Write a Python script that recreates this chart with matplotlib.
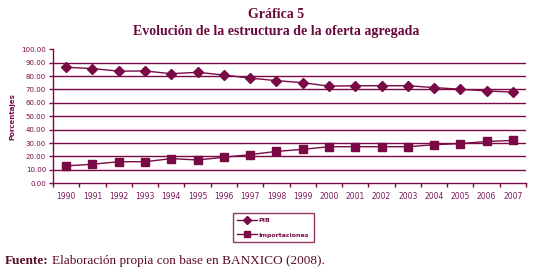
import matplotlib.pyplot as plt
import numpy as np

years = [str(y) for y in range(1990, 2008)]
pib = [86.6, 85.6, 83.7, 83.8, 81.8, 82.8, 80.8, 78.5, 76.6, 75.1, 72.5, 72.8, 72.8, 72.8, 71.4, 70.2, 68.9, 68.0]
importaciones = [13.0, 14.2, 16.1, 16.1, 18.4, 17.4, 19.4, 21.4, 23.8, 25.3, 27.3, 27.3, 27.3, 27.3, 28.8, 29.6, 31.2, 32.0]
yticks = np.arange(0, 101, 10)

maroon = "#7a0a45"
tick_font = ["Liberation Sans Narrow", "DejaVu Sans"]

fig = plt.figure(figsize=(5.52, 2.8), dpi=100)
ax = fig.add_axes([0.096, 0.3454, 0.857, 0.4786])

x = np.arange(len(years))
ax.plot(x, pib, color=maroon, lw=1, marker="D", markersize=5, label="PIB")
ax.plot(x, importaciones, color=maroon, lw=1, marker="s", markersize=5.5, label="Importaciones")

# horizontal grid lines (no line at 100)
for v in yticks[1:-1]:
    ax.axhline(v, color=maroon, lw=1, zorder=0)

ax.set_xlim(-0.5, len(years) - 0.5)
ax.set_ylim(0, 100)
ax.set_yticks(yticks)
ax.set_yticklabels([f"{v:.2f}" for v in yticks], family=tick_font, fontsize=5, color=maroon)
ax.set_xticks(x)
ax.set_xticklabels(years, family=tick_font, fontsize=5.5, color="#7a1a5a")
ax.set_xticks(np.arange(len(years) + 1) - 0.5, minor=True)
ax.tick_params(axis="x", which="major", length=0, pad=6)
ax.tick_params(axis="x", which="minor", length=3, color=maroon, width=1)
ax.tick_params(axis="y", length=3, color=maroon, width=1, pad=2)

for s in ["top", "right"]:
    ax.spines[s].set_visible(False)
for s in ["left", "bottom"]:
    ax.spines[s].set_color(maroon)
    ax.spines[s].set_linewidth(1)

ax.set_ylabel("Porcentajes", family=tick_font, fontsize=5, fontweight="bold", color=maroon, labelpad=4)

leg = ax.legend(loc="upper left", bbox_to_anchor=(233 / 552, 1 - 213 / 280), bbox_transform=fig.transFigure,
                frameon=True, fancybox=False, prop={"family": tick_font, "size": 4.5, "weight": "bold"},
                handlelength=3.2, handletextpad=0.2, labelspacing=1.5, borderpad=0.7, borderaxespad=0,
                markerscale=0.8)
leg.get_frame().set_edgecolor(maroon)
leg.get_frame().set_linewidth(1)
for t in leg.get_texts():
    t.set_color(maroon)

fig.text(0.5, 1 - 14 / 280, "Gráfica 5", ha="center", va="center", family="Liberation Serif",
         fontsize=10, fontweight="bold", color="#6a0a3a")
fig.text(0.5, 1 - 31 / 280, "Evolución de la estructura de la oferta agregada", ha="center", va="center",
         family="Liberation Serif", fontsize=10, fontweight="bold", color="#6a0a3a")

t1 = fig.text(5 / 552, 1 - 261 / 280, "Fuente:", ha="left", va="center", family="Liberation Serif",
              fontsize=9.5, fontweight="bold", color="#5a0a2a")
fig.canvas.draw()
bb = t1.get_window_extent()
fig.text((bb.x1 + 3) / 552, 1 - 261 / 280, "Elaboración propia con base en BANXICO (2008).", ha="left", va="center",
         family="Liberation Serif", fontsize=9.5, color="#5a0a2a")

fig.savefig("out.png", dpi=100)
